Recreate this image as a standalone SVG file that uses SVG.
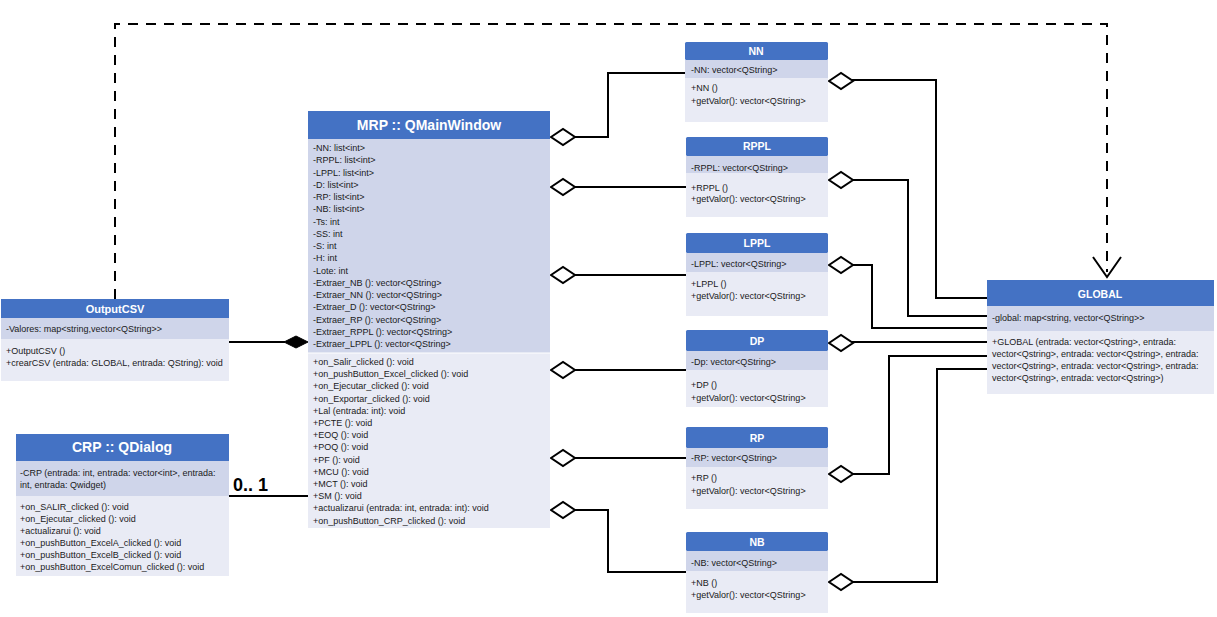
<svg xmlns="http://www.w3.org/2000/svg" width="1217" height="617" viewBox="0 0 1217 617">
  <style>
    .hdr { fill: #4472c4; }
    .attr { fill: #cfd5ea; }
    .meth { fill: #e9ebf5; }
    .ttl { font-family: "Liberation Sans", Arial, sans-serif; font-weight: bold; fill: #ffffff; text-anchor: middle; }
    .t { font-family: "Liberation Sans", Arial, sans-serif; font-size: 9px; fill: #1a1a1a; }
    .ln { fill: none; stroke: #000000; stroke-width: 2; }
    .agg { fill: #ffffff; stroke: #000000; stroke-width: 2; }
    .cmp { fill: #000000; stroke: #000000; stroke-width: 1; }
    .dash { fill: none; stroke: #000000; stroke-width: 2; stroke-dasharray: 10 8; }
    .mult { font-family: "Liberation Sans", Arial, sans-serif; font-size: 18px; font-weight: bold; fill: #000000; }
  </style>

  <!-- connectors -->
  <g id="connectors">
    <!-- dependency OutputCSV -> GLOBAL -->
    <path class="dash" d="M115,299 V24 H1107 V272"/>
    <polyline class="ln" points="1093,257 1107,277 1121,257"/>

    <!-- composition OutputCSV -> MRP -->
    <line class="ln" x1="229" y1="342" x2="285" y2="342"/>
    <polygon class="cmp" points="284,342 296,336 308,342 296,348"/>

    <!-- CRP association -->
    <line class="ln" x1="229" y1="496" x2="308" y2="496"/>
    <text class="mult" x="233" y="491">0.. 1</text>

    <!-- MRP aggregations -->
    <polyline class="ln" points="574,137 608,137 608,73 686,73"/>
    <polygon class="agg" points="551,137 563,129 575,137 563,145"/>
    <line class="ln" x1="574" y1="187" x2="686" y2="187"/>
    <polygon class="agg" points="551,187 563,179 575,187 563,195"/>
    <line class="ln" x1="574" y1="275" x2="686" y2="275"/>
    <polygon class="agg" points="551,275 563,267 575,275 563,283"/>
    <line class="ln" x1="574" y1="370" x2="686" y2="370"/>
    <polygon class="agg" points="551,370 563,362 575,370 563,378"/>
    <line class="ln" x1="574" y1="458" x2="686" y2="458"/>
    <polygon class="agg" points="551,458 563,450 575,458 563,466"/>
    <polyline class="ln" points="574,510 608,510 608,572 686,572"/>
    <polygon class="agg" points="551,510 563,502 575,510 563,518"/>

    <!-- GLOBAL aggregations -->
    <polyline class="ln" points="852,80 936,80 936,298 987,298"/>
    <polygon class="agg" points="829,81 841,73 853,81 841,89"/>
    <polyline class="ln" points="852,180 908,180 908,316 987,316"/>
    <polygon class="agg" points="829,180 841,172 853,180 841,188"/>
    <polyline class="ln" points="852,265 872,265 872,328 987,328"/>
    <polygon class="agg" points="829,265 841,257 853,265 841,273"/>
    <line class="ln" x1="852" y1="342" x2="987" y2="342"/>
    <polygon class="agg" points="829,343 841,335 853,343 841,351"/>
    <polyline class="ln" points="852,474 889,474 889,356 987,356"/>
    <polygon class="agg" points="829,474 841,466 853,474 841,482"/>
    <polyline class="ln" points="852,582 937,582 937,369 987,369"/>
    <polygon class="agg" points="829,582 841,574 853,582 841,590"/>
  </g>

  <!-- MRP :: QMainWindow -->
  <g id="MRP">
    <rect class="hdr" x="308" y="111" width="242" height="28"/>
    <rect class="attr" x="308" y="139" width="242" height="214"/>
    <rect class="meth" x="308" y="353" width="242" height="175"/>
    <line x1="308" y1="353" x2="550" y2="353" stroke="#ffffff" stroke-width="1"/>
    <text class="ttl" x="429" y="130" font-size="14">MRP :: QMainWindow</text>
    <text class="t" x="313" y="151">-NN: list&lt;int&gt;</text>
    <text class="t" x="313" y="163.3">-RPPL: list&lt;int&gt;</text>
    <text class="t" x="313" y="175.5">-LPPL: list&lt;int&gt;</text>
    <text class="t" x="313" y="187.8">-D: list&lt;int&gt;</text>
    <text class="t" x="313" y="200">-RP: list&lt;int&gt;</text>
    <text class="t" x="313" y="212.3">-NB: list&lt;int&gt;</text>
    <text class="t" x="313" y="224.5">-Ts: int</text>
    <text class="t" x="313" y="236.8">-SS: int</text>
    <text class="t" x="313" y="249">-S: int</text>
    <text class="t" x="313" y="261.3">-H: int</text>
    <text class="t" x="313" y="273.5">-Lote: int</text>
    <text class="t" x="313" y="285.8">-Extraer_NB (): vector&lt;QString&gt;</text>
    <text class="t" x="313" y="298">-Extraer_NN (): vector&lt;QString&gt;</text>
    <text class="t" x="313" y="310.3">-Extraer_D (): vector&lt;QString&gt;</text>
    <text class="t" x="313" y="322.5">-Extraer_RP (): vector&lt;QString&gt;</text>
    <text class="t" x="313" y="334.8">-Extraer_RPPL (): vector&lt;QString&gt;</text>
    <text class="t" x="313" y="347">-Extraer_LPPL (): vector&lt;QString&gt;</text>
    <text class="t" x="313" y="365">+on_Salir_clicked (): void</text>
    <text class="t" x="313" y="377.2">+on_pushButton_Excel_clicked (): void</text>
    <text class="t" x="313" y="389.4">+on_Ejecutar_clicked (): void</text>
    <text class="t" x="313" y="401.6">+on_Exportar_clicked (): void</text>
    <text class="t" x="313" y="413.8">+Lal (entrada: int): void</text>
    <text class="t" x="313" y="426">+PCTE (): void</text>
    <text class="t" x="313" y="438.2">+EOQ (): void</text>
    <text class="t" x="313" y="450.4">+POQ (): void</text>
    <text class="t" x="313" y="462.6">+PF (): void</text>
    <text class="t" x="313" y="474.8">+MCU (): void</text>
    <text class="t" x="313" y="487">+MCT (): void</text>
    <text class="t" x="313" y="499.2">+SM (): void</text>
    <text class="t" x="313" y="511.4">+actualizarui (entrada: int, entrada: int): void</text>
    <text class="t" x="313" y="523.6">+on_pushButton_CRP_clicked (): void</text>
  </g>

  <!-- OutputCSV -->
  <g id="OutputCSV">
    <rect class="hdr" x="1" y="299" width="228" height="19"/>
    <rect class="attr" x="1" y="318" width="228" height="21"/>
    <rect class="meth" x="1" y="339" width="228" height="42"/>
    <text class="ttl" x="115" y="313" font-size="11">OutputCSV</text>
    <text class="t" x="6" y="332">-Valores: map&lt;string,vector&lt;QString&gt;&gt;</text>
    <text class="t" x="6" y="354">+OutputCSV ()</text>
    <text class="t" x="6" y="366">+crearCSV (entrada: GLOBAL, entrada: QString): void</text>
  </g>

  <!-- CRP :: QDialog -->
  <g id="CRP">
    <rect class="hdr" x="16" y="434" width="213" height="27"/>
    <rect class="attr" x="16" y="461" width="213" height="35"/>
    <rect class="meth" x="16" y="496" width="213" height="80"/>
    <text class="ttl" x="122" y="452" font-size="14">CRP :: QDialog</text>
    <text class="t" x="20" y="476">-CRP (entrada: int, entrada: vector&lt;int&gt;, entrada:</text>
    <text class="t" x="20" y="488">int, entrada: Qwidget)</text>
    <text class="t" x="20" y="510">+on_SALIR_clicked (): void</text>
    <text class="t" x="20" y="522">+on_Ejecutar_clicked (): void</text>
    <text class="t" x="20" y="534">+actualizarui (): void</text>
    <text class="t" x="20" y="546">+on_pushButton_ExcelA_clicked (): void</text>
    <text class="t" x="20" y="558">+on_pushButton_ExcelB_clicked (): void</text>
    <text class="t" x="20" y="570">+on_pushButton_ExcelComun_clicked (): void</text>
  </g>

  <!-- NN -->
  <g id="NN">
    <rect class="hdr" x="685" y="42" width="143" height="18" rx="1.5"/>
    <rect class="attr" x="685" y="60" width="143" height="18"/>
    <rect class="meth" x="685" y="78" width="143" height="44"/>
    <text class="ttl" x="756" y="55" font-size="10.5">NN</text>
    <text class="t" x="691" y="73">-NN: vector&lt;QString&gt;</text>
    <text class="t" x="691" y="91">+NN ()</text>
    <text class="t" x="691" y="104">+getValor(): vector&lt;QString&gt;</text>
  </g>

  <!-- RPPL -->
  <g id="RPPL">
    <rect class="hdr" x="686" y="137" width="142" height="19" rx="1.5"/>
    <rect class="attr" x="686" y="156" width="142" height="17"/>
    <rect class="meth" x="686" y="173" width="142" height="44"/>
    <text class="ttl" x="757" y="150" font-size="10.5">RPPL</text>
    <text class="t" x="691" y="171">-RPPL: vector&lt;QString&gt;</text>
    <text class="t" x="691" y="191">+RPPL ()</text>
    <text class="t" x="691" y="202">+getValor(): vector&lt;QString&gt;</text>
  </g>

  <!-- LPPL -->
  <g id="LPPL">
    <rect class="hdr" x="686" y="233" width="142" height="20" rx="1.5"/>
    <rect class="attr" x="686" y="253" width="142" height="19"/>
    <rect class="meth" x="686" y="272" width="142" height="44"/>
    <text class="ttl" x="757" y="247" font-size="10.5">LPPL</text>
    <text class="t" x="691" y="267">-LPPL: vector&lt;QString&gt;</text>
    <text class="t" x="691" y="287">+LPPL ()</text>
    <text class="t" x="691" y="299">+getValor(): vector&lt;QString&gt;</text>
  </g>

  <!-- DP -->
  <g id="DP">
    <rect class="hdr" x="686" y="330" width="142" height="21" rx="1.5"/>
    <rect class="attr" x="686" y="351" width="142" height="19"/>
    <rect class="meth" x="686" y="370" width="142" height="37"/>
    <text class="ttl" x="757" y="345" font-size="10.5">DP</text>
    <text class="t" x="691" y="365">-Dp: vector&lt;QString&gt;</text>
    <text class="t" x="691" y="388">+DP ()</text>
    <text class="t" x="691" y="401">+getValor(): vector&lt;QString&gt;</text>
  </g>

  <!-- RP -->
  <g id="RP">
    <rect class="hdr" x="686" y="427" width="142" height="21" rx="1.5"/>
    <rect class="attr" x="686" y="448" width="142" height="19"/>
    <rect class="meth" x="686" y="467" width="142" height="42"/>
    <text class="ttl" x="757" y="442" font-size="10.5">RP</text>
    <text class="t" x="691" y="461">-RP: vector&lt;QString&gt;</text>
    <text class="t" x="691" y="481">+RP ()</text>
    <text class="t" x="691" y="494">+getValor(): vector&lt;QString&gt;</text>
  </g>

  <!-- NB -->
  <g id="NB">
    <rect class="hdr" x="686" y="532" width="142" height="19" rx="1.5"/>
    <rect class="attr" x="686" y="551" width="142" height="20"/>
    <rect class="meth" x="686" y="571" width="142" height="42"/>
    <text class="ttl" x="757" y="546" font-size="10.5">NB</text>
    <text class="t" x="691" y="566">-NB: vector&lt;QString&gt;</text>
    <text class="t" x="691" y="586">+NB ()</text>
    <text class="t" x="691" y="598">+getValor(): vector&lt;QString&gt;</text>
  </g>

  <!-- GLOBAL -->
  <g id="GLOBAL">
    <rect class="hdr" x="987" y="280" width="227" height="26"/>
    <rect class="attr" x="987" y="306" width="227" height="25"/>
    <rect class="meth" x="987" y="331" width="227" height="63"/>
    <text class="ttl" x="1100" y="298" font-size="10.5">GLOBAL</text>
    <text class="t" x="992" y="321">-global: map&lt;string, vector&lt;QString&gt;&gt;</text>
    <text class="t" x="992" y="345">+GLOBAL (entrada: vector&lt;Qstring&gt;, entrada:</text>
    <text class="t" x="992" y="357">vector&lt;Qstring&gt;, entrada: vector&lt;Qstring&gt;, entrada:</text>
    <text class="t" x="992" y="369">vector&lt;Qstring&gt;, entrada: vector&lt;Qstring&gt;, entrada:</text>
    <text class="t" x="992" y="381">vector&lt;Qstring&gt;, entrada: vector&lt;Qstring&gt;)</text>
  </g>
</svg>
